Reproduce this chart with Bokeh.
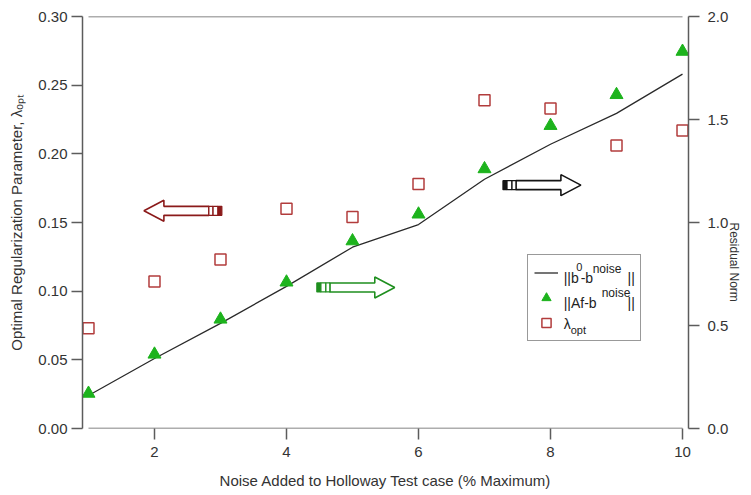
import math

from bokeh.embed import file_html
from bokeh.models import (Arrow, FixedTicker, Label, Legend, LegendItem,
                          LinearAxis, NumeralTickFormatter, Range1d)
from bokeh.plotting import figure
from bokeh.resources import INLINE

# ---- data -------------------------------------------------------------
noise_pct = [1, 2, 3, 4, 5, 6, 7, 8, 9, 10]
lambda_opt = [0.073, 0.107, 0.123, 0.160, 0.154, 0.178, 0.239, 0.233, 0.206, 0.217]
resid_af = [0.17, 0.36, 0.53, 0.71, 0.91, 1.04, 1.26, 1.47, 1.62, 1.83]
resid_b0 = [0.16, 0.34, 0.51, 0.69, 0.88, 0.99, 1.21, 1.38, 1.53, 1.72]

left_ticks = [0.0, 0.05, 0.10, 0.15, 0.20, 0.25, 0.30]
right_ticks = [0.0, 0.5, 1.0, 1.5, 2.0]
bottom_ticks = [2, 4, 6, 8, 10]

LAM_MAX = 0.30
RES_MAX = 2.0

# ---- layout -----------------------------------------------------------
W, H = 751, 495
FL, FR, FT, FB = 82, 689, 16, 428   # frame edges (px)
GAP = 6                             # side axes sit a little off the data

x_ppu = (FR - FL - 2 * GAP) / (noise_pct[-1] - noise_pct[0])
x_lo = noise_pct[0] - GAP / x_ppu
x_hi = noise_pct[-1] + GAP / x_ppu
y_ppu = (FB - FT) / LAM_MAX


def xd(px):
    """canvas x (px) -> data x"""
    return x_lo + (px - FL) / x_ppu


def yd(py):
    """canvas y (px) -> left-axis data y"""
    return (FB - py) / y_ppu


FONT = "Liberation Sans"
AXIS_GREY = "#5c5c5c"
TEXT = "#333333"

p = figure(width=W, height=H,
           x_range=Range1d(x_lo, x_hi), y_range=Range1d(0, LAM_MAX),
           output_backend="svg", toolbar_location=None,
           min_border_left=FL, min_border_right=W - FR,
           min_border_top=FT, min_border_bottom=H - FB)
p.extra_y_ranges = {"resid": Range1d(0, RES_MAX)}
p.outline_line_color = None
p.grid.visible = False
p.background_fill_color = "white"
p.border_fill_color = "white"

raxis = LinearAxis(y_range_name="resid")
p.add_layout(raxis, "right")

xaxis = p.xaxis[0]
yaxis = p.yaxis[0]
for ax in (xaxis, yaxis, raxis):
    ax.major_label_text_font = FONT
    ax.major_label_text_font_size = "15px"
    ax.major_label_text_color = TEXT
    ax.axis_line_color = AXIS_GREY
    ax.axis_line_width = 1.5
    ax.major_tick_line_color = AXIS_GREY
    ax.major_tick_line_width = 1.5
    ax.major_tick_in = 0
    ax.major_tick_out = 11
    ax.minor_tick_line_color = None
    ax.axis_label_text_font = FONT
    ax.axis_label_text_font_style = "normal"
    ax.axis_label_text_color = TEXT

xaxis.ticker = FixedTicker(ticks=bottom_ticks)
xaxis.formatter = NumeralTickFormatter(format="0")
xaxis.axis_line_color = None
xaxis.major_label_standoff = 7
xaxis.axis_label = "Noise Added to Holloway Test case (% Maximum)"
xaxis.axis_label_text_font_size = "15px"
xaxis.axis_label_standoff = 12

yaxis.ticker = FixedTicker(ticks=left_ticks)
yaxis.formatter = NumeralTickFormatter(format="0.00")
yaxis.major_label_standoff = 4
yaxis.axis_label = "Optimal Regularization Parameter, λₒₚₜ"
yaxis.axis_label_text_font_size = "15px"
yaxis.axis_label_standoff = 10

raxis.ticker = FixedTicker(ticks=right_ticks)
raxis.formatter = NumeralTickFormatter(format="0.0")
raxis.major_label_standoff = 8
raxis.axis_label = "Residual Norm"
raxis.axis_label_text_font_size = "12px"
raxis.axis_label_standoff = 3
raxis.axis_label_orientation = -math.pi / 2   # read bottom-to-top

# bottom axis line and top frame line span only the data extent
for yv in (0, LAM_MAX):
    p.add_layout(Arrow(end=None, x_start=noise_pct[0], x_end=noise_pct[-1],
                       y_start=yv, y_end=yv, line_color=AXIS_GREY,
                       line_width=1.5))

# ---- series -----------------------------------------------------------
r_line = p.line(noise_pct, resid_b0, y_range_name="resid",
                line_color="#2a2a2a", line_width=1.3)
r_tri = p.scatter(noise_pct, resid_af, y_range_name="resid", marker="triangle",
                  size=13, fill_color="#1db31d", line_color="#1db31d")
r_sq = p.scatter(noise_pct, lambda_opt, marker="square", size=11,
                 fill_color=None, line_color="#b23c3c", line_width=1.5)

# ---- block arrows pointing at the axis each series is read against ----
arrow_tips = [(1.84, 0.1585), (5.64, 0.1027), (8.46, 0.1772)]
arrow_dirs = [-1, 1, 1]
arrow_colors = ["#8b1a1a", "#1f8f1f", "#151515"]

ARROW_LEN, HEAD_LEN, HEAD_HALF, BODY_HALF = 78, 20, 10.5, 4.5
for (tx, ty), d, col in zip(arrow_tips, arrow_dirs, arrow_colors):
    tail = tx - d * ARROW_LEN / x_ppu

    def ax_(u):
        return tail + d * u / x_ppu

    def ay_(v):
        return ty + v / y_ppu

    us = [13, ARROW_LEN - HEAD_LEN, ARROW_LEN - HEAD_LEN, ARROW_LEN,
          ARROW_LEN - HEAD_LEN, ARROW_LEN - HEAD_LEN, 13]
    vs = [-BODY_HALF, -BODY_HALF, -HEAD_HALF, 0, HEAD_HALF, BODY_HALF, BODY_HALF]
    p.patch([ax_(u) for u in us], [ay_(v) for v in vs], fill_color="white",
            line_color=col, line_width=1.6)
    # striped tail: one solid block then two open boxes
    for (u0, u1), fill in (((0, 4), col), ((4, 9), "white"), ((9, 13), "white")):
        p.quad(left=[min(ax_(u0), ax_(u1))], right=[max(ax_(u0), ax_(u1))],
               bottom=[ay_(-BODY_HALF)], top=[ay_(BODY_HALF)],
               fill_color=fill, line_color=col, line_width=1.3)

# ---- legend (keys from the renderers, labels set with super/subscripts)
legend = Legend(items=[LegendItem(label=" ", renderers=[r_line]),
                       LegendItem(label=" ", renderers=[r_tri]),
                       LegendItem(label=" ", renderers=[r_sq])],
                location=(527 - FL, FB - 341), margin=0, padding=6, spacing=2,
                glyph_height=23, glyph_width=24, label_standoff=6,
                label_width=70, label_text_font_size="13px",
                border_line_color="#333333", border_line_width=1.5,
                background_fill_alpha=0.0)
p.add_layout(legend)


def lbl(text, px, py, size, color="#222222"):
    p.add_layout(Label(x=xd(px), y=yd(py), text=text, text_font=FONT,
                       text_font_size=f"{size}px", text_color=color,
                       text_align="left", text_baseline="middle"))


lbl("||b", 564, 277, 14)
lbl("0", 576.5, 266, 11)
lbl("-b", 581, 277, 14)
lbl("noise", 593, 268, 12)
lbl("||", 628, 277, 14)

lbl("||Af-b", 564, 302, 14)
lbl("noise", 602, 292, 12)
lbl("||", 628, 302, 14)

lbl("λ", 564, 323, 14)
lbl("opt", 571, 329, 11)

open("out.html", "w").write(file_html(p, INLINE))
